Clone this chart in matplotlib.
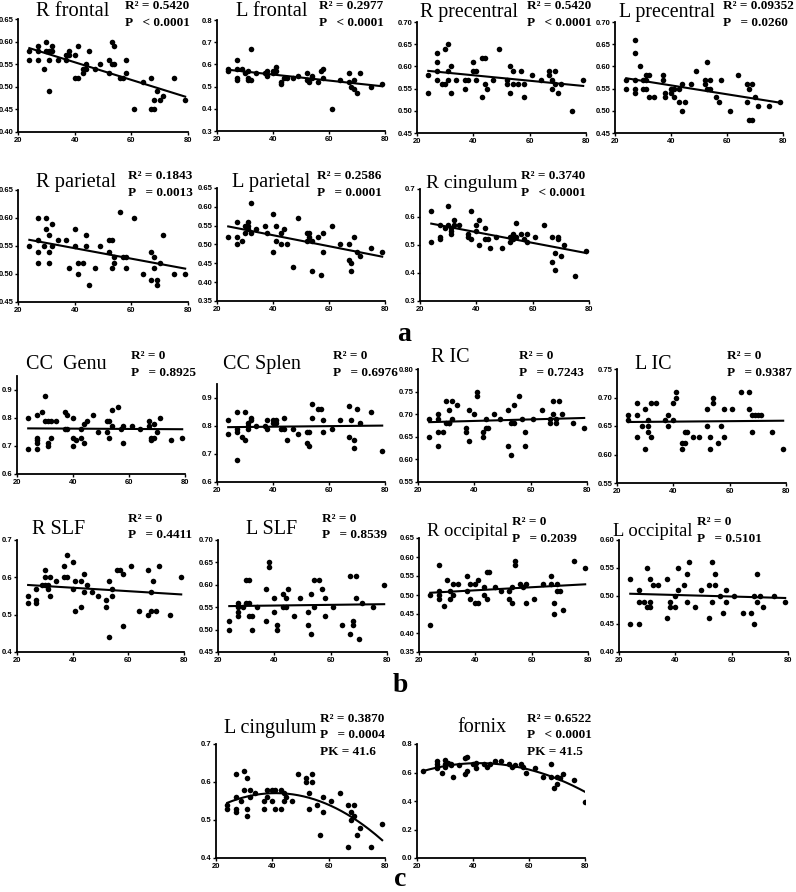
import numpy as np
import matplotlib
matplotlib.use("Agg")
import matplotlib.pyplot as plt

W, H = 796, 892

# ---------------- data (age, FA) ----------------
r_frontal_age = [24,24,27,27,27,29,30,30,31,31,31,32,32,34,37,37,38,38,40,40,41,41,43,43,44,44,45,47,49,52,52,53,53,54,54,56,57,58,58,61,64,67,67,68,68,69,70,71,75,79]
r_frontal_fa  = [0.56,0.58,0.59,0.58,0.56,0.54,0.60,0.58,0.58,0.56,0.49,0.58,0.59,0.56,0.57,0.56,0.57,0.58,0.57,0.52,0.59,0.52,0.53,0.54,0.55,0.54,0.58,0.54,0.55,0.56,0.53,0.60,0.55,0.59,0.55,0.52,0.52,0.56,0.53,0.45,0.51,0.52,0.45,0.47,0.45,0.49,0.47,0.48,0.52,0.47]

l_frontal_age = [24,24,27,27,27,27,29,30,31,31,31,32,32,34,37,38,38,40,40,41,41,43,43,44,45,47,49,52,52,53,54,54,56,57,58,58,61,64,67,67,68,69,69,70,71,75,79]
l_frontal_fa  = [0.58,0.57,0.62,0.58,0.53,0.54,0.58,0.56,0.53,0.57,0.54,0.67,0.53,0.56,0.56,0.57,0.55,0.57,0.56,0.59,0.57,0.51,0.52,0.54,0.54,0.54,0.55,0.56,0.53,0.52,0.55,0.54,0.52,0.57,0.58,0.54,0.40,0.53,0.56,0.52,0.50,0.53,0.49,0.47,0.56,0.50,0.51]

r_precentral_age = [24,24,27,27,27,27,29,30,30,31,31,31,32,32,34,37,37,38,40,40,41,41,43,43,44,44,45,47,49,52,52,53,53,54,54,56,57,58,58,61,64,67,67,68,68,69,69,70,71,75,79]
r_precentral_fa  = [0.58,0.54,0.63,0.61,0.59,0.57,0.56,0.64,0.56,0.65,0.59,0.57,0.60,0.54,0.57,0.55,0.57,0.57,0.61,0.59,0.59,0.57,0.62,0.53,0.62,0.56,0.55,0.57,0.64,0.57,0.56,0.60,0.54,0.59,0.56,0.56,0.59,0.56,0.53,0.58,0.57,0.59,0.58,0.57,0.55,0.59,0.56,0.54,0.56,0.50,0.57]

l_precentral_age = [24,24,27,27,27,27,27,29,30,30,31,31,31,32,32,34,37,37,38,38,40,40,41,41,43,43,44,44,45,47,49,52,52,53,53,54,54,56,57,58,61,64,67,67,68,68,69,69,70,71,75,79]
l_precentral_fa  = [0.57,0.55,0.66,0.63,0.57,0.55,0.54,0.60,0.57,0.55,0.58,0.57,0.55,0.58,0.53,0.53,0.58,0.57,0.54,0.53,0.55,0.54,0.55,0.53,0.55,0.52,0.56,0.50,0.52,0.56,0.59,0.57,0.56,0.61,0.55,0.57,0.55,0.53,0.52,0.57,0.50,0.58,0.56,0.52,0.55,0.48,0.48,0.56,0.53,0.51,0.51,0.52]

r_parietal_age = [24,27,27,27,27,29,30,30,31,31,31,32,32,34,37,38,40,40,41,41,43,44,44,45,47,49,52,52,53,53,54,54,56,57,58,58,61,64,67,67,68,68,69,69,70,71,75,79]
r_parietal_fa  = [0.55,0.60,0.56,0.54,0.52,0.55,0.60,0.58,0.57,0.54,0.52,0.59,0.55,0.56,0.56,0.51,0.58,0.55,0.52,0.50,0.52,0.57,0.55,0.48,0.51,0.55,0.56,0.54,0.56,0.51,0.53,0.52,0.61,0.53,0.53,0.51,0.60,0.50,0.54,0.49,0.53,0.51,0.49,0.48,0.52,0.57,0.50,0.50]

l_parietal_age = [24,27,27,27,29,30,30,31,31,31,32,32,34,37,38,40,40,41,41,43,43,44,45,47,49,52,52,53,53,54,54,56,57,58,58,61,64,67,67,68,68,69,70,71,75,79]
l_parietal_fa  = [0.52,0.56,0.52,0.50,0.51,0.55,0.53,0.56,0.55,0.54,0.61,0.53,0.54,0.55,0.53,0.58,0.48,0.55,0.51,0.53,0.50,0.54,0.50,0.44,0.57,0.53,0.51,0.53,0.52,0.51,0.43,0.52,0.42,0.53,0.48,0.55,0.50,0.50,0.46,0.45,0.43,0.52,0.48,0.47,0.49,0.48]

r_cingulum_age = [24,24,27,27,27,29,30,30,31,31,31,32,32,34,37,37,38,38,40,40,41,41,43,43,44,45,47,49,52,52,53,53,53,54,54,56,57,58,58,61,64,67,67,68,68,69,69,70,71,75,79]
r_cingulum_fa  = [0.62,0.51,0.57,0.53,0.52,0.56,0.64,0.57,0.56,0.55,0.54,0.59,0.57,0.57,0.54,0.53,0.52,0.62,0.57,0.55,0.59,0.50,0.56,0.52,0.52,0.49,0.53,0.49,0.51,0.53,0.54,0.53,0.52,0.58,0.53,0.54,0.52,0.54,0.51,0.53,0.57,0.53,0.44,0.47,0.41,0.53,0.52,0.46,0.50,0.39,0.48]

cc_genu_age = [24,24,27,27,27,27,27,29,30,30,31,31,31,32,32,34,37,37,38,38,40,40,40,41,43,43,44,44,45,47,49,52,52,53,53,54,54,56,57,58,58,61,64,67,67,68,68,69,69,70,71,75,79]
cc_genu_fa  = [0.80,0.69,0.81,0.73,0.72,0.71,0.69,0.82,0.88,0.79,0.79,0.71,0.70,0.79,0.73,0.79,0.82,0.76,0.81,0.76,0.80,0.73,0.70,0.72,0.73,0.76,0.78,0.71,0.79,0.81,0.75,0.79,0.75,0.79,0.73,0.83,0.77,0.84,0.76,0.77,0.71,0.77,0.76,0.79,0.77,0.73,0.72,0.78,0.73,0.75,0.80,0.72,0.73]

cc_splen_age = [24,24,27,27,27,27,29,30,30,31,31,31,32,32,34,37,38,38,40,40,41,41,43,44,44,45,47,49,52,52,53,53,54,54,56,57,58,58,61,64,67,67,68,69,69,70,71,75,79]
cc_splen_fa  = [0.82,0.77,0.85,0.78,0.79,0.68,0.76,0.85,0.75,0.81,0.80,0.79,0.83,0.82,0.80,0.80,0.82,0.79,0.82,0.81,0.82,0.81,0.79,0.83,0.79,0.75,0.79,0.77,0.78,0.74,0.78,0.73,0.88,0.83,0.86,0.86,0.82,0.78,0.79,0.82,0.87,0.76,0.82,0.75,0.72,0.86,0.81,0.85,0.71]

r_ic_age = [24,24,27,27,27,27,29,30,30,31,31,31,32,32,34,37,37,38,38,40,41,41,43,43,44,44,45,47,49,52,52,53,53,54,54,56,57,58,58,61,64,67,67,68,68,69,69,70,71,75,79]
r_ic_fa  = [0.69,0.65,0.70,0.69,0.66,0.63,0.66,0.73,0.68,0.71,0.68,0.68,0.73,0.69,0.72,0.67,0.66,0.71,0.64,0.70,0.75,0.74,0.66,0.65,0.69,0.67,0.67,0.70,0.69,0.71,0.63,0.68,0.61,0.72,0.68,0.74,0.69,0.66,0.63,0.69,0.71,0.69,0.68,0.73,0.70,0.69,0.68,0.73,0.70,0.68,0.67]

l_ic_age = [24,24,27,27,27,29,30,30,31,31,31,32,32,34,37,38,38,40,40,41,41,43,43,44,44,45,47,49,52,52,53,53,54,54,56,57,58,58,61,64,67,67,68,68,69,70,71,75,79]
l_ic_fa  = [0.67,0.66,0.69,0.67,0.63,0.65,0.68,0.61,0.66,0.65,0.64,0.69,0.63,0.69,0.66,0.67,0.65,0.69,0.66,0.71,0.70,0.62,0.61,0.64,0.62,0.64,0.63,0.63,0.68,0.65,0.63,0.61,0.70,0.69,0.62,0.65,0.68,0.63,0.68,0.71,0.71,0.68,0.64,0.67,0.67,0.67,0.67,0.64,0.61]

r_slf_age = [24,24,27,27,27,29,30,30,30,31,31,32,32,34,37,37,38,38,40,40,41,41,43,43,44,44,45,47,49,52,52,53,53,54,54,56,57,58,58,61,64,67,67,68,68,69,70,71,75,79]
r_slf_fa  = [0.55,0.53,0.57,0.54,0.53,0.58,0.62,0.60,0.58,0.58,0.57,0.60,0.55,0.59,0.63,0.60,0.66,0.60,0.64,0.57,0.59,0.51,0.59,0.52,0.61,0.56,0.58,0.56,0.55,0.54,0.52,0.59,0.44,0.57,0.55,0.62,0.62,0.61,0.47,0.63,0.51,0.62,0.50,0.56,0.51,0.59,0.51,0.63,0.50,0.60]

l_slf_age = [24,24,27,27,27,27,29,30,30,31,31,31,32,32,34,37,37,38,38,40,40,41,41,43,43,44,44,45,47,49,52,52,53,53,54,54,56,57,58,58,61,64,67,67,68,68,69,69,70,71,75,79]
l_slf_fa  = [0.52,0.50,0.56,0.55,0.54,0.53,0.55,0.61,0.56,0.61,0.56,0.53,0.53,0.50,0.55,0.59,0.52,0.65,0.64,0.57,0.54,0.51,0.50,0.58,0.55,0.57,0.55,0.59,0.53,0.57,0.54,0.51,0.58,0.49,0.61,0.55,0.61,0.59,0.57,0.53,0.55,0.51,0.62,0.49,0.52,0.51,0.62,0.57,0.48,0.56,0.55,0.60]

r_occipital_age = [24,24,27,27,27,27,29,30,31,31,32,32,34,37,37,38,38,40,40,41,41,43,43,44,44,45,47,49,52,52,53,53,54,54,56,57,58,58,61,64,67,67,68,68,69,69,70,71,75,79]
r_occipital_fa  = [0.50,0.42,0.58,0.51,0.50,0.49,0.47,0.54,0.51,0.49,0.53,0.50,0.53,0.55,0.51,0.53,0.49,0.53,0.48,0.54,0.48,0.52,0.50,0.56,0.49,0.56,0.52,0.51,0.51,0.49,0.52,0.48,0.59,0.58,0.53,0.52,0.53,0.48,0.49,0.53,0.55,0.53,0.48,0.45,0.53,0.51,0.51,0.46,0.59,0.57]

l_occipital_age = [24,24,27,27,27,29,30,30,31,31,31,32,34,37,37,38,38,40,40,41,41,43,44,44,45,47,49,52,52,53,53,54,54,56,57,58,58,61,64,67,68,68,69,69,70,71,75,79]
l_occipital_fa  = [0.53,0.45,0.51,0.49,0.45,0.49,0.55,0.48,0.53,0.49,0.48,0.52,0.52,0.53,0.46,0.49,0.48,0.50,0.48,0.55,0.51,0.52,0.54,0.49,0.56,0.48,0.51,0.52,0.46,0.56,0.49,0.54,0.52,0.50,0.47,0.51,0.49,0.50,0.47,0.47,0.50,0.45,0.54,0.49,0.50,0.48,0.50,0.49]

l_cingulum_age = [24,24,27,27,27,27,29,30,30,31,31,31,32,32,34,37,37,38,38,40,40,41,41,43,43,44,44,45,47,49,52,52,53,53,54,54,56,57,58,58,61,64,67,67,68,68,69,69,70,71,75,79]
l_cingulum_fa  = [0.54,0.53,0.62,0.56,0.53,0.52,0.55,0.63,0.58,0.61,0.53,0.51,0.58,0.56,0.57,0.53,0.55,0.58,0.56,0.58,0.55,0.58,0.53,0.58,0.53,0.57,0.55,0.56,0.55,0.62,0.61,0.60,0.57,0.53,0.62,0.60,0.54,0.46,0.56,0.52,0.55,0.57,0.54,0.43,0.52,0.50,0.54,0.51,0.46,0.48,0.43,0.49]

fornix_age = [22,27,27,27,27,29,30,30,30,31,32,32,33,35,37,37,38,38,40,41,41,44,45,46,48,50,53,54,55,57,58,59,62,65,68,68,69,70,70,71,72,76,80]
fornix_fa  = [0.61,0.68,0.66,0.64,0.63,0.60,0.69,0.66,0.64,0.67,0.66,0.65,0.57,0.65,0.70,0.59,0.71,0.61,0.66,0.67,0.63,0.66,0.64,0.66,0.68,0.68,0.66,0.64,0.65,0.66,0.64,0.60,0.63,0.57,0.66,0.57,0.49,0.57,0.52,0.56,0.59,0.55,0.39]

# ---------------- panel text ----------------
titles = ["R frontal", "L frontal", "R precentral", "L precentral",
          "R parietal", "L parietal", "R cingulum",
          "CC  Genu", "CC Splen", "R IC", "L IC",
          "R SLF", "L SLF", "R occipital", "L occipital",
          "L cingulum", "fornix"]
r2_labels = ["0.5420", "0.2977", "0.5420", "0.09352",
             "0.1843", "0.2586", "0.3740",
             "0", "0", "0", "0",
             "0", "0", "0", "0",
             "0.3870", "0.6522"]
p_labels = ["< 0.0001", "< 0.0001", "< 0.0001", "= 0.0260",
            "= 0.0013", "= 0.0001", "< 0.0001",
            "= 0.8925", "= 0.6976", "= 0.7243", "= 0.9387",
            "= 0.4411", "= 0.8539", "= 0.2039", "= 0.5101",
            "= 0.0004", "< 0.0001"]
pk_labels = [None]*15 + ["41.6", "41.5"]

ages = [r_frontal_age, l_frontal_age, r_precentral_age, l_precentral_age,
        r_parietal_age, l_parietal_age, r_cingulum_age,
        cc_genu_age, cc_splen_age, r_ic_age, l_ic_age,
        r_slf_age, l_slf_age, r_occipital_age, l_occipital_age,
        l_cingulum_age, fornix_age]
fas = [r_frontal_fa, l_frontal_fa, r_precentral_fa, l_precentral_fa,
       r_parietal_fa, l_parietal_fa, r_cingulum_fa,
       cc_genu_fa, cc_splen_fa, r_ic_fa, l_ic_fa,
       r_slf_fa, l_slf_fa, r_occipital_fa, l_occipital_fa,
       l_cingulum_fa, fornix_fa]
fit_degree = [1]*15 + [2, 2]

# y-axis: (min, max, first tick, last tick, step, decimals)
y_axes = [(0.40, 0.65, 0.40, 0.65, 0.05, 2), (0.3, 0.8, 0.3, 0.8, 0.1, 1),
          (0.45, 0.70, 0.45, 0.70, 0.05, 2), (0.45, 0.70, 0.45, 0.70, 0.05, 2),
          (0.45, 0.65, 0.45, 0.65, 0.05, 2), (0.35, 0.65, 0.35, 0.65, 0.05, 2),
          (0.3, 0.7, 0.3, 0.7, 0.1, 1),
          (0.6, 0.95, 0.6, 0.9, 0.1, 1), (0.6, 0.95, 0.6, 0.9, 0.1, 1),
          (0.55, 0.80, 0.55, 0.80, 0.05, 2), (0.55, 0.75, 0.55, 0.75, 0.05, 2),
          (0.4, 0.7, 0.4, 0.7, 0.1, 1), (0.45, 0.70, 0.45, 0.70, 0.05, 2),
          (0.35, 0.65, 0.35, 0.65, 0.05, 2), (0.40, 0.60, 0.40, 0.60, 0.05, 2),
          (0.4, 0.7, 0.4, 0.7, 0.1, 1), (0.0, 0.8, 0.0, 0.8, 0.2, 1)]
x_ticks = [20, 40, 60, 80]

# ---------------- layout (pixels) ----------------
# axes box: left, right, top (at y max), bottom
boxes = [(18, 188, 19, 132), (217, 385, 20, 131), (417, 586, 22, 133), (615, 783, 22, 133),
         (18, 188, 190, 302), (217, 385, 188, 301), (420, 589, 189, 301),
         (17, 185, 376, 474), (217, 385, 384, 482), (418, 587, 369, 482), (617, 786, 369, 483),
         (17, 184, 540, 652), (218, 387, 540, 652), (419, 588, 538, 652), (619, 788, 540, 652),
         (216, 385, 744, 858), (417, 585, 744, 858)]
# title: center x, center y, font size
title_pos = [(73, 12, 14.8), (272, 12, 14.8), (469, 13, 14.3), (667, 13, 14.3),
             (76, 183, 14.8), (271, 183, 14.8), (472, 183, 14.0),
             (66, 364, 14.5), (262, 364, 14.5), (450, 358, 14.5), (653, 364, 14.5),
             (59, 530, 14.5), (272, 530, 14.5), (468, 531, 13.3), (653, 531, 13.3),
             (270, 728, 14.5), (482, 728, 14.5)]
# stats: left x, y of first line
stat_pos = [(125, 6), (319, 6), (527, 6), (723, 6),
            (128, 176), (317, 176), (521, 176),
            (131, 356), (333, 356), (519, 356), (727, 356),
            (128, 519), (322, 519), (512, 522), (697, 522),
            (320, 719), (527, 719)]
line_gap = 16.5

fig = plt.figure(figsize=(W/100, H/100), dpi=100)
serif = ["Liberation Serif", "DejaVu Serif"]

for i in range(len(titles)):
    l, r, t, b = boxes[i]
    ax = fig.add_axes([l/W, 1 - b/H, (r - l)/W, (b - t)/H])
    x = np.array(ages[i], dtype=float)
    y = np.array(fas[i], dtype=float)
    ax.scatter(x, y, s=16, color="black", zorder=3, linewidths=0)
    coef = np.polyfit(x, y, fit_degree[i])
    xs = np.linspace(x.min(), x.max(), 200)
    ax.plot(xs, np.polyval(coef, xs), color="black", lw=1.5, zorder=2)
    y0, y1, t0, t1, st, dec = y_axes[i]
    ax.set_xlim(20, 80)
    ax.set_ylim(y0, y1)
    ax.set_xticks(x_ticks)
    yt = np.round(np.arange(t0, t1 + st/2, st), 3)
    ax.set_yticks(yt)
    ax.set_yticklabels([f"{v:.{dec}f}" for v in yt])
    ax.set_xticklabels([str(v) for v in x_ticks])
    for s in ["top", "right"]:
        ax.spines[s].set_visible(False)
    for s in ["left", "bottom"]:
        ax.spines[s].set_linewidth(1.3)
    ax.tick_params(direction="out", length=2.5, width=1.0, pad=1, labelsize=5.5)
    for lab in ax.get_xticklabels() + ax.get_yticklabels():
        lab.set_fontfamily("Liberation Sans")
        lab.set_fontweight("bold")
    ax.patch.set_alpha(0)

    tx, ty, tfs = title_pos[i]
    fig.text(tx/W, 1 - ty/H, titles[i], family=serif, fontsize=tfs,
             ha="center", va="center")
    sx, sy = stat_pos[i]
    fig.text(sx/W, 1 - sy/H, "R\u00b2 = " + r2_labels[i], family=serif, fontsize=9.5,
             fontweight="bold", ha="left", va="center")
    fig.text(sx/W, 1 - (sy + line_gap)/H, "P   " + p_labels[i], family=serif, fontsize=9.5,
             fontweight="bold", ha="left", va="center")
    if pk_labels[i] is not None:
        fig.text(sx/W, 1 - (sy + 2*line_gap)/H, "PK = " + pk_labels[i], family=serif,
                 fontsize=9.5, fontweight="bold", ha="left", va="center")

for lab, (px, py) in zip(["a", "b", "c"], [(404, 335), (400, 685), (400, 880)]):
    fig.text(px/W, 1 - py/H, lab, family=serif, fontsize=20, fontweight="bold",
             ha="center", va="center")

fig.savefig("out.png", dpi=100, facecolor="white")
